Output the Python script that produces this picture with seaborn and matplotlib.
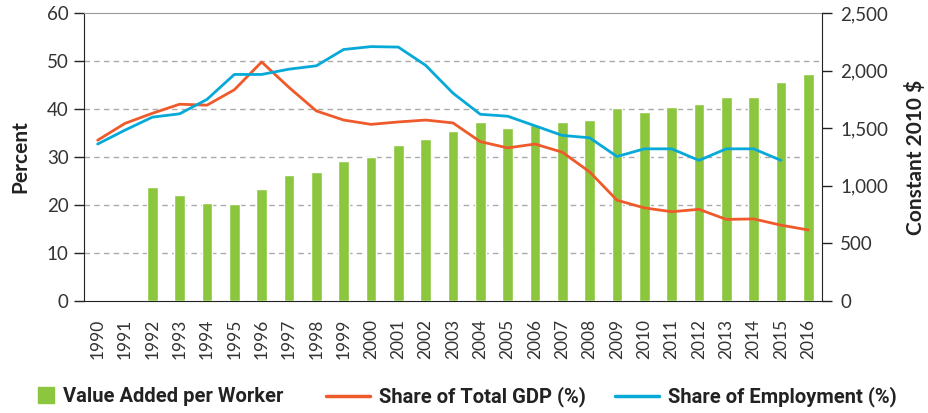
import numpy as np
import pandas as pd
import matplotlib.pyplot as plt
from matplotlib.lines import Line2D
import seaborn as sns

years = [str(y) for y in range(1990, 2017)]

# value added per worker, constant 2010 $ (right axis)
value_added = [np.nan, np.nan, 990, 920, 850, 842, 972, 1094, 1120, 1215,
               1250, 1354, 1406, 1476, 1554, 1502, 1525, 1554, 1571, 1675,
               1641, 1684, 1710, 1771, 1771, 1901, 1970]

# shares in percent (left axis)
gdp_share = [33.5, 37.0, 39.1, 41.0, 40.8, 44.0, 49.8, 44.5, 39.6, 37.7,
             36.8, 37.3, 37.7, 37.1, 33.2, 31.9, 32.7, 31.0, 26.9, 21.0,
             19.4, 18.6, 19.1, 17.0, 17.1, 15.8, 14.8]
emp_share = [32.7, 35.6, 38.3, 39.0, 42.0, 47.2, 47.2, 48.3, 49.0, 52.4,
             53.0, 52.9, 49.1, 43.3, 38.9, 38.5, 36.5, 34.5, 34.0, 30.1,
             31.7, 31.7, 29.3, 31.7, 31.7, 29.3, np.nan]

df = pd.DataFrame({"Year": years, "VA": value_added,
                   "GDP": gdp_share, "EMP": emp_share})

GREEN = "#8cc63f"
RED = "#ef5a2b"
BLUE = "#06a9d8"
TXT = "#333333"

sns.set_style("white")
plt.rcParams["font.family"] = ["Lato", "DejaVu Sans"]

fig = plt.figure(figsize=(9.29, 4.13), dpi=100)
ax = fig.add_axes([0.0904, 0.2712, 0.7944, 0.6973])
ax_bar = ax.twinx()
ax_line = ax.twinx()

# percent axis with grid (bottom layer)
ax.set_ylim(0, 60)
ax.set_yticks(range(0, 61, 10))
for v in range(10, 60, 10):
    ax.axhline(v, color="#aaaaaa", lw=1, ls=(0, (4, 3)), zorder=0)
ax.tick_params(axis="y", direction="out", length=7, width=1, color="#222222",
               labelsize=13.5, labelcolor=TXT, pad=4)
ax.set_ylabel("Percent", fontsize=15, fontweight="bold", color="#222222", labelpad=12)

# bars on the $ axis
sns.barplot(data=df, x="Year", y="VA", color=GREEN, width=0.4,
            saturation=1, ax=ax_bar, zorder=2)
ax_bar.set_ylim(0, 2500)
ax_bar.set_yticks(range(0, 2501, 500))
ax_bar.set_yticklabels([f"{v:,}" for v in range(0, 2501, 500)])
ax_bar.tick_params(axis="y", direction="out", length=7, width=1, color="#222222",
                   labelsize=13.5, labelcolor=TXT, pad=6)
ax_bar.set_ylabel("Constant 2010 $", fontsize=15, fontweight="bold",
                  color="#222222", labelpad=12)
ax_bar.set_xlabel("")
ax_bar.patch.set_visible(False)

# lines on top
sns.lineplot(data=df, x="Year", y="GDP", color=RED, lw=2, ax=ax_line, sort=False)
sns.lineplot(data=df, x="Year", y="EMP", color=BLUE, lw=2, ax=ax_line, sort=False)
ax_line.set_ylim(0, 60)
ax_line.set_yticks([])
ax_line.set_ylabel("")
ax_line.set_xlabel("")
ax_line.patch.set_visible(False)

ax.set_zorder(1)
ax_bar.set_zorder(2)
ax_line.set_zorder(3)

# x axis: labels at centres, tick marks between categories
pos = np.arange(len(years))
ax.set_xlim(-0.5, len(years) - 0.5)
ax.set_xticks(pos)
ax.set_xticklabels(years, rotation=90, fontsize=12.5, color=TXT)
ax.set_xticks(np.arange(-0.5, len(years), 1), minor=True)
ax.tick_params(axis="x", which="major", length=0, pad=13)
ax.tick_params(axis="x", which="minor", direction="out", length=7, width=1,
               color="#222222")
for a in (ax_bar, ax_line):
    a.tick_params(axis="x", which="both", bottom=False, labelbottom=False)
    a.set_xlim(-0.5, len(years) - 0.5)
ax.set_xlabel("")

# spines
for a in (ax, ax_bar, ax_line):
    for s in a.spines.values():
        s.set_visible(False)
ax.spines["left"].set_visible(True)
ax.spines["left"].set_color("#222222")
ax.spines["bottom"].set_visible(True)
ax.spines["bottom"].set_color("#222222")
ax.spines["top"].set_visible(True)
ax.spines["top"].set_color("#999999")
ax_bar.spines["right"].set_visible(True)
ax_bar.spines["right"].set_color("#222222")

# legend: three pieces placed along the bottom
legend_items = [
    (Line2D([], [], color=GREEN, marker="s", ls="none", markersize=12),
     "Value Added per Worker", 37, 0.85),
    (Line2D([], [], color=RED, lw=2.5), "Share of Total GDP (%)", 326, 2.2),
    (Line2D([], [], color=BLUE, lw=2.5), "Share of Employment (%)", 615, 2.2),
]
for h, lab, x0, hl in legend_items:
    lg = fig.legend([h], [lab], loc="center left",
                    bbox_to_anchor=(x0 / 929, 16 / 413), frameon=False,
                    handlelength=hl, handletextpad=0.45, borderpad=0,
                    borderaxespad=0,
                    prop={"family": ["Roboto", "DejaVu Sans"],
                          "weight": "bold", "size": 14.5})
    for t in lg.get_texts():
        t.set_color("#222222")

fig.savefig("out.png", dpi=100)
